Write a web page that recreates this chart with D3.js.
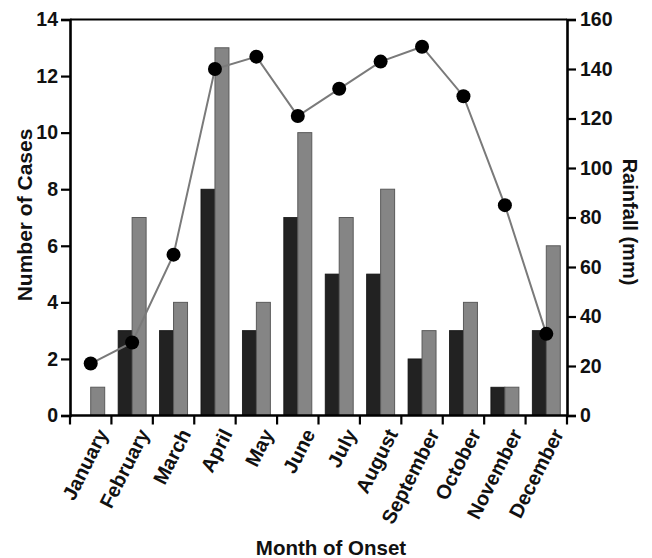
<html>
<meta charset="utf-8" />
<head>
<title>Cases and rainfall by month of onset</title>
<script src="https://cdn.jsdelivr.net/npm/d3@7/dist/d3.min.js"></script>
<style>
	body { margin: 0; background: #fff; }
	text { font-family: "Liberation Sans", Arial, sans-serif; font-weight: bold; fill: #111; }
</style>
</head>
<body>
<svg id="chart" width="652" height="558"></svg>
<script>
// months on the x axis
const months = ['January', 'February', 'March', 'April', 'May', 'June',
	'July', 'August', 'September', 'October', 'November', 'December'];
// number of cases, dark bars
const casesDark = [0, 3, 3, 8, 3, 7, 5, 5, 2, 3, 1, 3];
// number of cases, grey bars
const casesGrey = [1, 7, 4, 13, 4, 10, 7, 8, 3, 4, 1, 6];
// rainfall (mm), line with dots
const rainfall = [21, 29.5, 65, 140, 145, 121, 132, 143, 149, 129, 85, 33];
// tick labels
const caseTicks = [0, 2, 4, 6, 8, 10, 12, 14];
const rainTicks = [0, 20, 40, 60, 80, 100, 120, 140, 160];

const plotLeft = 70, plotRight = 567, plotTop = 19.5, plotBottom = 415.5;
const svg = d3.select('#chart');

let x = d3.scaleBand().domain(months).range([plotLeft, plotRight]);
let xSub = d3.scaleBand().domain(['dark', 'grey']).range([0, x.bandwidth()]).paddingOuter(0.48);
let yCases = d3.scaleLinear().domain([0, 14]).range([plotBottom, plotTop]);
let yRain = d3.scaleLinear().domain([0, 160]).range([plotBottom, plotTop]);

// one row per month
const rows = months.map((m, i) => ({ month: m, dark: casesDark[i], grey: casesGrey[i], rain: rainfall[i] }));

// bars
svg.append('g').selectAll('rect.dark')
	.data(rows).enter()
	.append('rect')
	.attr('class', 'dark')
	.attr('x', d => x(d.month) + xSub('dark'))
	.attr('width', xSub.bandwidth())
	.attr('y', d => yCases(d.dark))
	.attr('height', d => plotBottom - yCases(d.dark))
	.attr('fill', '#222')
	.attr('stroke', '#111')
	.attr('stroke-width', 0.8);

svg.append('g').selectAll('rect.grey')
	.data(rows).enter()
	.append('rect')
	.attr('class', 'grey')
	.attr('x', d => x(d.month) + xSub('grey'))
	.attr('width', xSub.bandwidth())
	.attr('y', d => yCases(d.grey))
	.attr('height', d => plotBottom - yCases(d.grey))
	.attr('fill', '#858585')
	.attr('stroke', '#5a5a5a')
	.attr('stroke-width', 1);

// rainfall line
let rainLine = d3.line()
	.x(d => x(d.month) + x.bandwidth() / 2)
	.y(d => yRain(d.rain));

svg.append('path')
	.attr('d', rainLine(rows))
	.attr('fill', 'none')
	.attr('stroke', '#7a7a7a')
	.attr('stroke-width', 2);

svg.append('g').selectAll('circle')
	.data(rows).enter()
	.append('circle')
	.attr('cx', d => x(d.month) + x.bandwidth() / 2)
	.attr('cy', d => yRain(d.rain))
	.attr('r', 7)
	.attr('fill', '#000');

// top frame line
svg.append('line')
	.attr('x1', plotLeft).attr('x2', plotRight)
	.attr('y1', plotTop).attr('y2', plotTop)
	.attr('stroke', '#000').attr('stroke-width', 2);

// axes
let leftAxis = d3.axisLeft(yCases).tickValues(caseTicks).tickSize(9).tickPadding(3);
let rightAxis = d3.axisRight(yRain).tickValues(rainTicks).tickSize(9).tickPadding(4);
let bottomAxis = d3.axisBottom(x).tickSize(0).tickFormat('');

let gl = svg.append('g').attr('transform', `translate(${plotLeft},0)`).call(leftAxis);
let gr = svg.append('g').attr('transform', `translate(${plotRight},0)`).call(rightAxis);
let gb = svg.append('g').attr('transform', `translate(0,${plotBottom})`).call(bottomAxis);

[gl, gr, gb].forEach(g => {
	g.select('.domain').attr('stroke', '#000').attr('stroke-width', 2.6);
	g.selectAll('.tick line').attr('stroke', '#000').attr('stroke-width', 2.2);
	g.selectAll('.tick text').attr('font-size', 19.5).attr('font-family', null).attr('fill', '#111');
});
gb.select('.domain').attr('d', `M${plotLeft},0H${plotRight}`);

// x ticks sit between the months
gb.selectAll('line.sep')
	.data(d3.range(months.length + 1)).enter()
	.append('line')
	.attr('class', 'sep')
	.attr('x1', i => plotLeft + i * x.step())
	.attr('x2', i => plotLeft + i * x.step())
	.attr('y1', 0).attr('y2', 9)
	.attr('stroke', '#000').attr('stroke-width', 2.2);

// rotated month labels
gb.selectAll('text.month')
	.data(months).enter()
	.append('text')
	.attr('class', 'month')
	.attr('font-size', 20)
	.attr('text-anchor', 'end')
	.attr('transform', d => `translate(${x(d) + x.bandwidth() / 2 + 18},18) rotate(-63)`)
	.text(d => d);

// axis titles
svg.append('text')
	.attr('font-size', 21)
	.attr('text-anchor', 'middle')
	.attr('transform', `translate(32,215) rotate(-90)`)
	.text('Number of Cases');

svg.append('text')
	.attr('font-size', 20)
	.attr('text-anchor', 'middle')
	.attr('transform', `translate(623,222) rotate(90)`)
	.text('Rainfall (mm)');

svg.append('text')
	.attr('font-size', 20.5)
	.attr('text-anchor', 'middle')
	.attr('x', 331).attr('y', 555)
	.text('Month of Onset');
</script>
</body>
</html>
